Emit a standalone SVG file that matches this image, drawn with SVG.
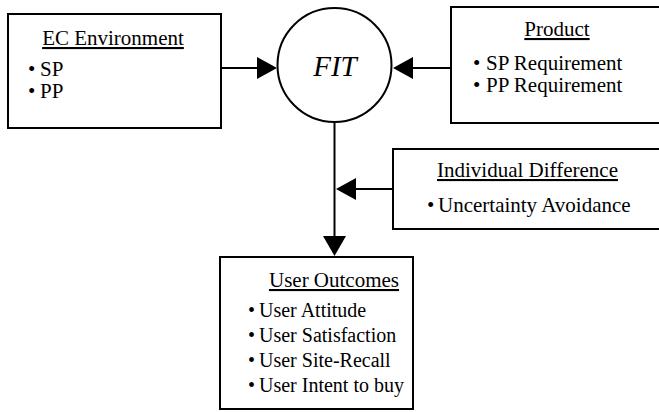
<svg xmlns="http://www.w3.org/2000/svg" width="659" height="412" viewBox="0 0 659 412">
<defs>
<style>
.box{fill:#fff;stroke:#000;stroke-width:2}
.t{font-family:"Liberation Serif","Times New Roman",serif;font-size:21px;fill:#000}
.s{font-size:20px}
.fit{font-size:29px;font-style:italic;text-anchor:middle}
.h{text-anchor:middle;text-decoration:underline}
.c{stroke:#000;stroke-width:2;fill:none}
.ah{fill:#000;stroke:none}
</style>
</defs>
<rect width="659" height="412" fill="#fff"/>
<g id="connectors">
<line class="c" x1="221" y1="68" x2="258" y2="68"/>
<polygon class="ah" points="277,68 257,57 257,79"/>
<line class="c" x1="451" y1="68" x2="411" y2="68"/>
<polygon class="ah" points="393,68 413,57 413,79"/>
<line class="c" x1="334.5" y1="122" x2="334.5" y2="238"/>
<polygon class="ah" points="334.5,256 323,236 346,236"/>
<line class="c" x1="393" y1="189" x2="354" y2="189"/>
<polygon class="ah" points="336,189 356,178 356,200"/>
</g>
<g id="ec-environment">
<rect class="box" x="8" y="14" width="213" height="114"/>
<text class="t h" x="113" y="45">EC Environment</text>
<text class="t" y="76"><tspan x="28">•</tspan><tspan x="40">SP</tspan></text>
<text class="t" y="98"><tspan x="28">•</tspan><tspan x="40">PP</tspan></text>
</g>
<g id="fit">
<circle cx="334.5" cy="65" r="57" fill="#fff" stroke="#000" stroke-width="2"/>
<text class="t fit" x="335" y="76">FIT</text>
</g>
<g id="product">
<rect class="box" x="451" y="7" width="212" height="116"/>
<text class="t h" x="557" y="36">Product</text>
<text class="t" y="70"><tspan x="473">•</tspan><tspan x="486">SP Requirement</tspan></text>
<text class="t" y="92"><tspan x="473">•</tspan><tspan x="486">PP Requirement</tspan></text>
</g>
<g id="individual-difference">
<rect class="box" x="393" y="149" width="270" height="80"/>
<text class="t h" x="527.5" y="177">Individual Difference</text>
<text class="t" y="212"><tspan x="427">•</tspan><tspan x="438">Uncertainty Avoidance</tspan></text>
</g>
<g id="user-outcomes">
<rect class="box" x="220" y="257" width="193" height="152"/>
<text class="t h" x="334" y="287">User Outcomes</text>
<text class="t s" y="317"><tspan x="248">•</tspan><tspan x="259">User Attitude</tspan></text>
<text class="t s" y="342"><tspan x="248">•</tspan><tspan x="259">User Satisfaction</tspan></text>
<text class="t s" y="367"><tspan x="248">•</tspan><tspan x="259">User Site-Recall</tspan></text>
<text class="t s" y="392"><tspan x="248">•</tspan><tspan x="259">User Intent to buy</tspan></text>
</g>
</svg>
